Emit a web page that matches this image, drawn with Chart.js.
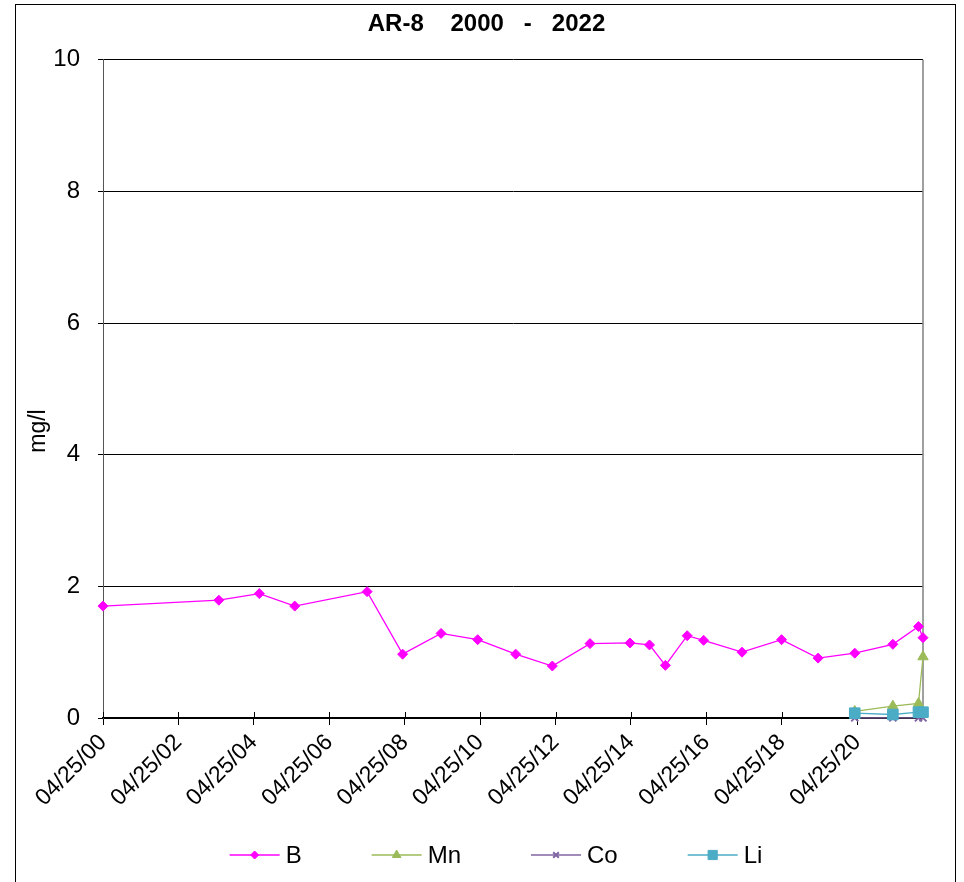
<!DOCTYPE html>
<html>
<head>
<meta charset="utf-8">
<script src="https://cdn.jsdelivr.net/npm/chart.js@4/dist/chart.umd.min.js"></script>
<style>
  html, body { margin: 0; padding: 0; background: #fff; }
  #wrap { width: 964px; height: 882px; }
</style>
</head>
<body>
<div id="wrap"><canvas id="c" width="964" height="882"></canvas></div>
<script>
// ---- data ----
const chartTitle = 'AR-8    2000   -   2022';
const yAxisTitle = 'mg/l';

const seriesNames = ['B', 'Mn', 'Co', 'Li'];

const datesB = [
  '2000-04-25', '2003-05-22', '2004-06-17', '2005-05-26', '2007-04-27',
  '2008-04-05', '2009-04-12', '2010-04-02', '2011-04-05', '2012-03-25',
  '2013-03-25', '2014-04-16', '2014-10-22', '2015-03-25', '2015-10-22',
  '2016-03-29', '2017-04-05', '2018-04-23', '2019-04-12', '2020-04-01',
  '2021-04-05', '2021-12-09', '2022-01-22'
];
const valuesB = [
  1.70, 1.79, 1.89, 1.70, 1.92,
  0.97, 1.285, 1.19, 0.97, 0.79,
  1.13, 1.14, 1.11, 0.80, 1.25,
  1.18, 1.00, 1.19, 0.91, 0.985,
  1.12, 1.39, 1.22
];

const datesMetals = ['2020-04-01', '2021-04-05', '2021-12-09', '2022-01-22'];
const valuesMn = [0.10, 0.18, 0.22, 0.93];
const valuesCo = [0.002, 0.002, 0.002, 0.002];
const valuesLi = [0.073, 0.053, 0.088, 0.088];

const xTickDates = [
  '2000-04-25', '2002-04-25', '2004-04-25', '2006-04-25', '2008-04-25',
  '2010-04-25', '2012-04-25', '2014-04-25', '2016-04-25', '2018-04-25', '2020-04-25'
];
const yMin = 0, yMax = 10, yStep = 2;

// ---- helpers ----
const DAY = 86400000;
function toDay(s) {
  const [y, m, d] = s.split('-').map(Number);
  return Date.UTC(y, m - 1, d) / DAY;
}
function fmtDay(v) {
  const dt = new Date(Math.round(v) * DAY);
  const mm = String(dt.getUTCMonth() + 1).padStart(2, '0');
  const dd = String(dt.getUTCDate()).padStart(2, '0');
  const yy = String(dt.getUTCFullYear() % 100).padStart(2, '0');
  return mm + '/' + dd + '/' + yy;
}
function pts(dates, vals) {
  return dates.map((d, i) => ({ x: toDay(d), y: vals[i] }));
}

const FONT = '"Liberation Sans", Arial, Helvetica, sans-serif';
const xTicks = xTickDates.map(toDay);
const xMin = toDay(datesB[0]);
const xMax = toDay(datesB[datesB.length - 1]);

const styles = {
  B:  { color: '#FF00FF', pointStyle: 'rectRot',  radius: 5,   borderWidth: 1 },
  Mn: { color: '#9BBB59', pointStyle: 'triangle', radius: 6,   borderWidth: 1 },
  Co: { color: '#8064A2', pointStyle: 'crossRot', radius: 5,   borderWidth: 2 },
  Li: { color: '#4BACC6', pointStyle: 'rect',     radius: 7.5, borderWidth: 1 }
};

function makeDataset(name, data, order) {
  const s = styles[name];
  return {
    label: name,
    data: data,
    borderColor: s.color,
    backgroundColor: s.color,
    borderWidth: 1.3,
    pointStyle: s.pointStyle,
    pointRadius: s.radius,
    pointHoverRadius: s.radius,
    pointBorderColor: s.color,
    pointBackgroundColor: s.color,
    pointBorderWidth: s.borderWidth,
    tension: 0,
    fill: false,
    clip: false,
    order: order
  };
}

// frame, y-axis title, inner tick marks and the line+marker legend
const decorations = {
  id: 'decorations',
  beforeDatasetsDraw(chart) {
    const { ctx, chartArea: a, scales } = chart;
    ctx.save();
    // right edge of plot area
    ctx.strokeStyle = '#808080';
    ctx.lineWidth = 1.5;
    ctx.beginPath();
    ctx.moveTo(a.right, a.top);
    ctx.lineTo(a.right, a.bottom);
    ctx.stroke();
    // x tick marks crossing into the plot
    ctx.strokeStyle = '#000';
    ctx.lineWidth = 1;
    scales.x.ticks.forEach(t => {
      const px = Math.round(scales.x.getPixelForValue(t.value)) + 0.5;
      ctx.beginPath();
      ctx.moveTo(px, a.bottom - 6);
      ctx.lineTo(px, a.bottom);
      ctx.stroke();
    });
    ctx.restore();
  },
  afterDraw(chart) {
    const { ctx } = chart;
    ctx.save();
    // outer frame
    ctx.strokeStyle = '#000';
    ctx.lineWidth = 1;
    ctx.strokeRect(15.5, 4.5, 940, 900);

    // y-axis title
    ctx.fillStyle = '#000';
    ctx.font = '23px ' + FONT;
    ctx.textAlign = 'center';
    ctx.textBaseline = 'middle';
    ctx.translate(39, 431);
    ctx.rotate(-Math.PI / 2);
    ctx.fillText(yAxisTitle, 0, 0);
    ctx.setTransform(1, 0, 0, 1, 0, 0);

    // legend
    const lineLen = 50, textGap = 6, itemGap = 70, legendY = 855, centerX = 496;
    ctx.font = '24px ' + FONT;
    const ds = chart.data.datasets;
    const widths = ds.map(d => lineLen + textGap + ctx.measureText(d.label).width);
    const total = widths.reduce((s, w) => s + w, 0) + itemGap * (ds.length - 1);
    let x = centerX - total / 2;
    ds.forEach((d, i) => {
      const s = styles[d.label];
      ctx.strokeStyle = s.color;
      ctx.fillStyle = s.color;
      ctx.lineWidth = 1.3;
      ctx.beginPath();
      ctx.moveTo(x, legendY);
      ctx.lineTo(x + lineLen, legendY);
      ctx.stroke();
      ctx.lineWidth = s.borderWidth;
      Chart.helpers.drawPoint(ctx, {
        pointStyle: s.pointStyle, radius: s.radius - 1, rotation: 0, borderWidth: s.borderWidth
      }, x + lineLen / 2, legendY);
      ctx.fillStyle = '#000';
      ctx.textAlign = 'left';
      ctx.textBaseline = 'middle';
      ctx.fillText(d.label, x + lineLen + textGap, legendY + 1);
      x += widths[i] + itemGap;
    });
    ctx.restore();
  }
};

const chart = new Chart(document.getElementById('c'), {
  type: 'line',
  data: {
    datasets: [
      makeDataset('B', pts(datesB, valuesB), 4),
      makeDataset('Mn', pts(datesMetals, valuesMn), 3),
      makeDataset('Co', pts(datesMetals, valuesCo), 2),
      makeDataset('Li', pts(datesMetals, valuesLi), 1)
    ]
  },
  options: {
    responsive: false,
    animation: false,
    devicePixelRatio: 1,
    layout: { padding: { left: 9, right: 0, top: 0, bottom: 0 } },
    plugins: {
      legend: { display: false },
      tooltip: { enabled: false },
      title: {
        display: true,
        text: chartTitle,
        color: '#000',
        font: { family: FONT, size: 24, weight: 'bold' },
        padding: { top: 10, bottom: 21 }
      }
    },
    scales: {
      x: {
        type: 'linear',
        min: xMin,
        max: xMax,
        afterBuildTicks: s => { s.ticks = xTicks.map(v => ({ value: v })); },
        afterFit: s => { s.height = 164; },
        ticks: {
          autoSkip: false,
          minRotation: 45,
          maxRotation: 45,
          padding: 4,
          color: '#000',
          font: { family: FONT, size: 23 },
          callback: v => fmtDay(v)
        },
        grid: { drawOnChartArea: false, drawTicks: true, tickLength: 7, color: '#000', lineWidth: 1 },
        border: { color: '#000', width: 2 }
      },
      y: {
        min: yMin,
        max: yMax,
        afterFit: s => { s.width = 94; },
        ticks: {
          stepSize: yStep,
          padding: 18,
          color: '#000',
          font: { family: FONT, size: 24 }
        },
        grid: { color: '#000', lineWidth: 1, tickLength: 5, drawTicks: true },
        border: { color: '#555', width: 1 }
      },
      // empty right-hand axis that reserves the margin beside the plot
      yRight: {
        position: 'right',
        min: yMin,
        max: yMax,
        afterFit: s => { s.width = 41; },
        ticks: { display: false },
        grid: { drawOnChartArea: false, drawTicks: false },
        border: { display: false }
      }
    }
  },
  plugins: [decorations]
});
</script>
</body>
</html>
